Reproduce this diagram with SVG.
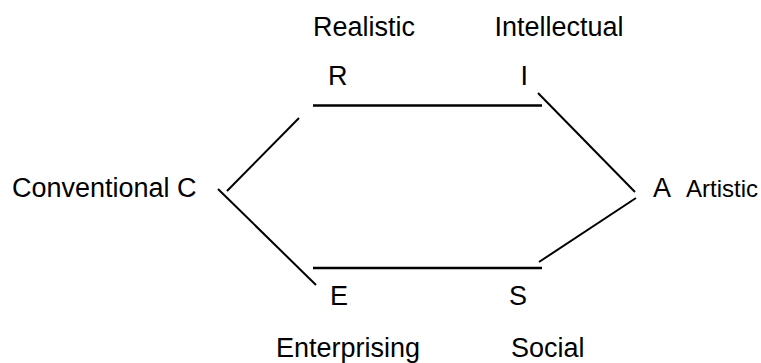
<svg xmlns="http://www.w3.org/2000/svg" width="761" height="363" viewBox="0 0 761 363">
<style>
text { font-family: "Liberation Sans", Arial, sans-serif; font-size: 27px; fill: #000; }
.edge { stroke: #000; stroke-width: 2; fill: none; }
.h { stroke-width: 2.6; }
</style>
<rect width="761" height="363" fill="#fff"/>
<g id="connectors">
  <line class="edge h" x1="313" y1="105.5" x2="542" y2="105.5"/>
  <line class="edge" x1="299" y1="118" x2="227" y2="191"/>
  <line class="edge" x1="218" y1="189" x2="316" y2="285"/>
  <line class="edge h" x1="313" y1="268" x2="542" y2="268"/>
  <line class="edge" x1="539" y1="262" x2="636" y2="198"/>
  <line class="edge" x1="538" y1="93" x2="635" y2="192"/>
</g>
<g id="node-R">
  <text x="313" y="36">Realistic</text>
  <text x="328" y="85">R</text>
</g>
<g id="node-I">
  <text x="494.5" y="36">Intellectual</text>
  <text x="520.5" y="85">I</text>
</g>
<g id="node-C">
  <text x="12" y="197">Conventional C</text>
</g>
<g id="node-A">
  <text x="653" y="197">A</text>
  <text x="686" y="197" style="font-size:24px">Artistic</text>
</g>
<g id="node-E">
  <text x="330" y="305">E</text>
  <text x="276" y="357">Enterprising</text>
</g>
<g id="node-S">
  <text x="509" y="305">S</text>
  <text x="511" y="357">Social</text>
</g>
</svg>
